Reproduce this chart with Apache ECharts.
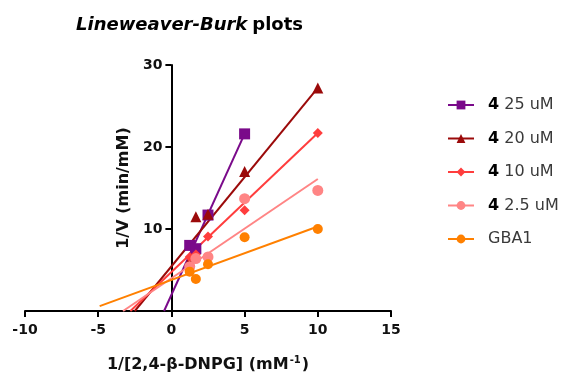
<!DOCTYPE html>
<html><head><meta charset="utf-8">
<script src="https://cdn.jsdelivr.net/npm/echarts@6/dist/echarts.min.js"></script>
<style>html,body{margin:0;padding:0;background:#fff}#c{width:566px;height:376px}</style>
</head><body><div id="c"></div>
<script>
// Substrate reciprocal (x) values
const xVals = [1.25, 1.67, 2.5, 5, 10];
// Series names and point values (1/V)
const names = ['4 25 uM', '4 20 uM', '4 10 uM', '4 2.5 uM', 'GBA1'];
const y25 = [8.0, 7.6, 11.7, 21.6, null];
const y20 = [6.1, 11.5, 11.8, 17.0, 27.2];
const y10 = [6.6, 6.9, 9.1, 12.3, 21.7];
const y2_5 = [5.4, 6.4, 6.6, 13.7, 14.7];
const yGBA = [4.8, 3.9, 5.7, 9.0, 10.0];
// Regression lines: [xStart, yStart, xEnd, yEnd]
const fit25 = [-0.5, 0, 5, 21.6];
const fit20 = [-2.5, 0, 10, 27.2];
const fit10 = [-2.8, 0, 10, 21.7];
const fit2_5 = [-3.3, 0, 10, 16.1];
const fitGBA = [-4.9, 0.6, 10, 10.3];
// Axis ticks
const xTicks = [-10, -5, 0, 5, 10, 15];
const yTicks = [0, 10, 20, 30];

const colors = ['#7a0a8a', '#9b0a0a', '#ff3d3d', '#ff8585', '#ff8000'];
const symbols = ['rect', 'triangle', 'diamond', 'circle', 'circle'];
const sizes = [11, 11, 10, 11, 10];
const ys = [y25, y20, y10, y2_5, yGBA];
const fits = [fit25, fit20, fit10, fit2_5, fitGBA];

const FONT = 'DejaVu Sans';
const series = [];
names.forEach((n, i) => {
  const f = fits[i];
  series.push({
    name: n, type: 'line', symbol: symbols[i], symbolSize: sizes[i], showSymbol: false,
    data: [[f[0], f[1]], [f[2], f[3]]],
    lineStyle: { color: colors[i], width: 2 }, itemStyle: { color: colors[i] },
    silent: true, z: 2
  });
});
names.forEach((n, i) => {
  series.push({
    name: n, type: 'scatter', symbol: symbols[i], symbolSize: sizes[i],
    data: xVals.map((x, k) => ys[i][k] == null ? null : [x, ys[i][k]]).filter(d => d),
    itemStyle: { color: colors[i], opacity: 1 }, z: 3
  });
});

const gridLeft = 25, gridRight = 175;
const plotW = 566 - gridLeft - gridRight;
const yAxisShift = (0 - xTicks[0]) / (xTicks[xTicks.length - 1] - xTicks[0]) * plotW;

const chart = echarts.init(document.getElementById('c'), null, { renderer: 'canvas' });
chart.setOption({
  animation: false,
  title: {
    text: '{i|Lineweaver-Burk} {b|plots}', left: 71, top: 11,
    textStyle: { rich: {
      i: { fontFamily: FONT, fontSize: 18, fontWeight: 'bold', fontStyle: 'italic', color: '#000' },
      b: { fontFamily: FONT, fontSize: 18, fontWeight: 'bold', color: '#000' }
    } }
  },
  legend: {
    orient: 'vertical', left: 442, top: 92, itemGap: 17.5, itemWidth: 26, itemHeight: 11,
    data: names,
    formatter: n => n.startsWith('4 ') ? '{b|4} ' + n.slice(2) : n,
    textStyle: { fontFamily: FONT, fontSize: 16, color: '#3a3a3a', padding: [0, 0, 0, 9],
      rich: { b: { fontFamily: FONT, fontSize: 16, fontWeight: 'bold', color: '#000' } } }
  },
  grid: { left: gridLeft, right: gridRight, top: 65, bottom: 65, containLabel: false, outerBoundsMode: 'none' },
  xAxis: {
    type: 'value', min: xTicks[0], max: xTicks[xTicks.length - 1], interval: 5,
    axisLine: { onZero: false, lineStyle: { color: '#000', width: 2 } },
    axisTick: { show: true, length: 6, lineStyle: { color: '#000', width: 2 } },
    axisLabel: { fontFamily: FONT, fontSize: 14, fontWeight: 'bold', color: '#111', margin: 12 },
    splitLine: { show: false },
    name: '{n|1/[2,4-β-DNPG] (mM}{s|-1}{n|)}', nameLocation: 'middle', nameGap: 44,
    nameTextStyle: { rich: {
      n: { fontFamily: FONT, fontSize: 16, fontWeight: 'bold', color: '#111' },
      s: { fontFamily: FONT, fontSize: 10, fontWeight: 'bold', color: '#111', verticalAlign: 'top', padding: [0, 1, 9, 1] }
    } }
  },
  yAxis: {
    type: 'value', min: yTicks[0], max: yTicks[yTicks.length - 1], interval: 10,
    offset: -yAxisShift,
    axisLine: { onZero: false, lineStyle: { color: '#000', width: 2 } },
    axisTick: { show: true, length: 6, lineStyle: { color: '#000', width: 2 } },
    axisLabel: { fontFamily: FONT, fontSize: 14, fontWeight: 'bold', color: '#111', margin: 9,
      formatter: v => v === 0 ? '' : String(v) },
    splitLine: { show: false },
    name: '1/V (min/mM)', nameLocation: 'middle', nameGap: 31, nameRotate: 90,
    nameTextStyle: { fontFamily: FONT, fontSize: 16, fontWeight: 'bold', color: '#111' }
  },
  series: series
});
</script>
</body></html>
